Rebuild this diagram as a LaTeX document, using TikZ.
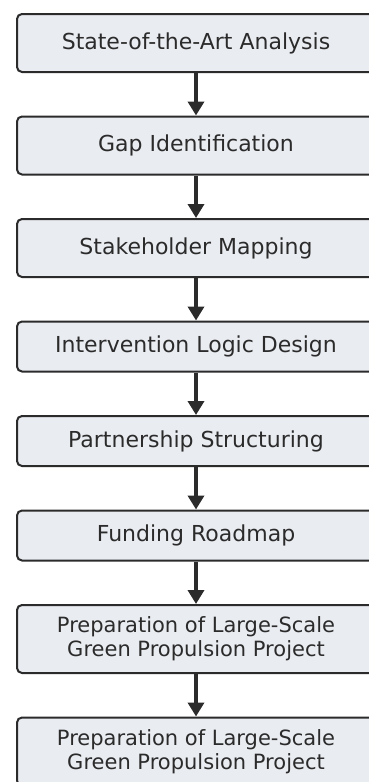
\documentclass[tikz,border=0pt]{standalone}
\usepackage{fontspec}
\setmainfont{DejaVu Sans}
\usetikzlibrary{ arrows.meta, positioning }
\definecolor{boxfill}{HTML}{E9ECF1}
\definecolor{boxline}{HTML}{2B2B2B}
\tikzset{
>={Triangle[width=16pt,length=14pt]}, % heavy arrow heads
node distance=42.5pt, % gap between two stages
stage/.style={draw=boxline, line width=2pt, fill=boxfill, rounded corners=5pt,
  minimum width=358pt, minimum height=58pt, align=center, text=boxline,
  font=\fontsize{22}{26}\selectfont},
flat/.style={minimum height=50pt},
tall/.style={minimum height=68pt, font=\fontsize{21}{24}\selectfont},
flow/.style={->, draw=boxline, line width=4.5pt},
}

\begin{document}
\begin{tikzpicture}[x=1pt,y=1pt]
  \useasboundingbox (0,0) rectangle (368,-782);
  \node[stage, anchor=north west] (analysis) at (16,-13) {State-of-the-Art Analysis};
  \node[stage, below=of analysis] (gap) {Gap Identification};
  \node[stage, below=of gap] (stakeholder) {Stakeholder Mapping};
  \node[stage, flat, below=of stakeholder] (logic) {Intervention Logic Design};
  \node[stage, flat, below=of logic] (partner) {Partnership Structuring};
  \node[stage, flat, below=of partner] (funding) {Funding Roadmap};
  \node[stage, tall, below=of funding] (prep) {Preparation of Large-Scale\\Green Propulsion Project};
  \node[stage, tall, below=of prep] (prepnext) {Preparation of Large-Scale\\Green Propulsion Project};
  \foreach \a/\b in {analysis/gap, gap/stakeholder, stakeholder/logic, logic/partner,
                     partner/funding, funding/prep, prep/prepnext}
    \draw[flow] (\a) -- (\b);
\end{tikzpicture}
\end{document}
